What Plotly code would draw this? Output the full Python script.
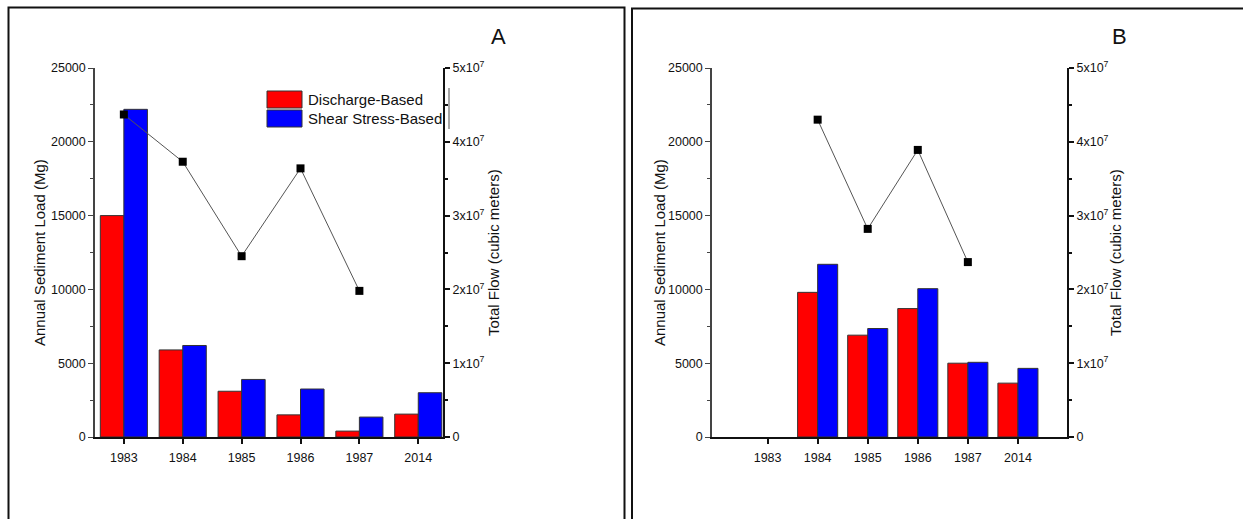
import plotly.graph_objects as go

W, H = 1243, 519

years = ["1983", "1984", "1985", "1986", "1987", "2014"]

# Panel A
a_discharge = [15000, 5900, 3100, 1500, 400, 1550]
a_shear = [22200, 6200, 3900, 3250, 1350, 3000]
a_flow = [4.37e7, 3.73e7, 2.45e7, 3.64e7, 1.98e7, None]

# Panel B
b_discharge = [None, 9800, 6900, 8700, 5000, 3650]
b_shear = [None, 11700, 7350, 10050, 5060, 4650]
b_flow = [None, 4.30e7, 2.82e7, 3.89e7, 2.37e7, None]

left_ticks = [0, 5000, 10000, 15000, 20000, 25000]
left_ticktext = ["0", "5000", "10000", "15000", "20000", "25000"]
right_tickvals = [0, 1e7, 2e7, 3e7, 4e7, 5e7]
right_ticktext = ["0", "1x10<sup>7</sup>", "2x10<sup>7</sup>", "3x10<sup>7</sup>",
                  "4x10<sup>7</sup>", "5x10<sup>7</sup>"]

RED = "#ff0000"
BLUE = "#0000ff"
FONT = "Liberation Sans, Arial"


def px(x):
    return x / W


def py(y):
    return 1 - y / H


fig = go.Figure()

bar_line = dict(color="#333", width=1)
# Panel A traces
fig.add_trace(go.Bar(x=years, y=a_discharge, name="Discharge-Based", marker=dict(color=RED, line=bar_line),
                     xaxis="x", yaxis="y", offsetgroup="a1", showlegend=False))
fig.add_trace(go.Bar(x=years, y=a_shear, name="Shear Stress-Based", marker=dict(color=BLUE, line=bar_line),
                     xaxis="x", yaxis="y", offsetgroup="a2", showlegend=False))
fig.add_trace(go.Scatter(x=years, y=a_flow, name="Total Flow", mode="lines+markers",
                         line=dict(color="#555", width=1), marker=dict(symbol="square", size=8, color="black"),
                         xaxis="x", yaxis="y2", showlegend=False))

# Panel B traces
fig.add_trace(go.Bar(x=years, y=b_discharge, name="Discharge-Based", marker=dict(color=RED, line=bar_line),
                     xaxis="x2", yaxis="y3", offsetgroup="b1", showlegend=False))
fig.add_trace(go.Bar(x=years, y=b_shear, name="Shear Stress-Based", marker=dict(color=BLUE, line=bar_line),
                     xaxis="x2", yaxis="y3", offsetgroup="b2", showlegend=False))
fig.add_trace(go.Scatter(x=years, y=b_flow, name="Total Flow", mode="lines+markers",
                         line=dict(color="#555", width=1), marker=dict(symbol="square", size=8, color="black"),
                         xaxis="x2", yaxis="y4", showlegend=False))

ydom = [py(437), py(68)]
tickfont = dict(family=FONT, size=12.5, color="#111")

xcommon = dict(type="category", categoryorder="array", categoryarray=years,
               showline=True, linecolor="#111", linewidth=2, ticks="outside", ticklen=5,
               tickcolor="#111", tickwidth=1.5, tickfont=tickfont, showgrid=False, zeroline=False,
               automargin=False, fixedrange=True, ticklabelstandoff=3)

yleft = dict(range=[0, 25000], tickvals=left_ticks, ticktext=left_ticktext, showline=True,
             linecolor="#444", linewidth=1.5,
             ticks="outside", ticklen=5, tickcolor="#444", tickwidth=1, tickfont=tickfont,
             showgrid=False, zeroline=False, domain=ydom, automargin=False, fixedrange=True,
             minor=dict(dtick=2500, ticks="outside", ticklen=3, tickcolor="#444"))

yright = dict(range=[0, 5e7], tickvals=right_tickvals, ticktext=right_ticktext, side="right",
              showline=True, linecolor="#111", linewidth=2, ticks="outside", ticklen=5,
              tickcolor="#111", tickwidth=1.5, tickfont=tickfont, showgrid=False, zeroline=False,
              automargin=False, fixedrange=True,
              minor=dict(dtick=5e6, ticks="outside", ticklen=3, tickcolor="#111"))

fig.update_layout(
    width=W, height=H, autosize=False,
    margin=dict(l=0, r=0, t=0, b=0, pad=0, autoexpand=False),
    paper_bgcolor="white", plot_bgcolor="white",
    barmode="group", bargap=0.2, bargroupgap=0,
    font=dict(family=FONT, color="#111"),
    xaxis=dict(xcommon, domain=[px(95), px(443)], range=[-0.49, 5.42], anchor="y"),
    xaxis2=dict(xcommon, domain=[px(712), px(1067)], range=[-1.11, 5.98], anchor="y3"),
    yaxis=dict(yleft, anchor="x"),
    yaxis2=dict(yright, overlaying="y", anchor="x"),
    yaxis3=dict(yleft, anchor="x2"),
    yaxis4=dict(yright, overlaying="y3", anchor="x2"),
)

titlefont = dict(family=FONT, size=15, color="#111")
ann = []
for xl, xr in [(39, 493), (659, 1115)]:
    ann.append(dict(text="Annual Sediment Load (Mg)", x=px(xl), y=py(253), xref="paper", yref="paper",
                    showarrow=False, textangle=-90, font=titlefont, xanchor="center", yanchor="middle"))
    ann.append(dict(text="Total Flow (cubic meters)", x=px(xr), y=py(253), xref="paper", yref="paper",
                    showarrow=False, textangle=-90, font=titlefont, xanchor="center", yanchor="middle"))
ann.append(dict(text="A", x=px(498), y=py(37), xref="paper", yref="paper", showarrow=False,
                font=dict(family=FONT, size=22, color="#111"), xanchor="center", yanchor="middle"))
ann.append(dict(text="B", x=px(1119), y=py(37), xref="paper", yref="paper", showarrow=False,
                font=dict(family=FONT, size=22, color="#111"), xanchor="center", yanchor="middle"))
# legend text
ann.append(dict(text="Discharge-Based", x=px(306), y=py(99.5), xref="paper", yref="paper", showarrow=False,
                font=dict(family=FONT, size=15, color="#111"), xanchor="left", yanchor="middle"))
ann.append(dict(text="Shear Stress-Based", x=px(306), y=py(118.5), xref="paper", yref="paper", showarrow=False,
                font=dict(family=FONT, size=15, color="#111"), xanchor="left", yanchor="middle"))

shapes = [
    dict(type="rect", xref="paper", yref="paper", x0=px(267), x1=px(302), y0=py(91), y1=py(108),
         fillcolor=RED, line=dict(color="#333", width=1)),
    dict(type="rect", xref="paper", yref="paper", x0=px(267), x1=px(302), y0=py(110), y1=py(127),
         fillcolor=BLUE, line=dict(color="#333", width=1)),
    dict(type="line", xref="paper", yref="paper", x0=px(449), x1=px(449), y0=py(88), y1=py(129),
         line=dict(color="#888", width=1.5)),
    # panel frames
    dict(type="rect", xref="paper", yref="paper", x0=px(8.5), x1=px(624.5), y0=py(7.5), y1=py(540),
         line=dict(color="#111", width=2)),
    dict(type="rect", xref="paper", yref="paper", x0=px(632), x1=px(1260), y0=py(8.5), y1=py(540),
         line=dict(color="#111", width=2)),
]

fig.update_layout(annotations=ann, shapes=shapes)

fig.write_html("out.html", config={"displayModeBar": False},
               post_script="document.body.style.margin='0';document.body.style.overflow='hidden';")
